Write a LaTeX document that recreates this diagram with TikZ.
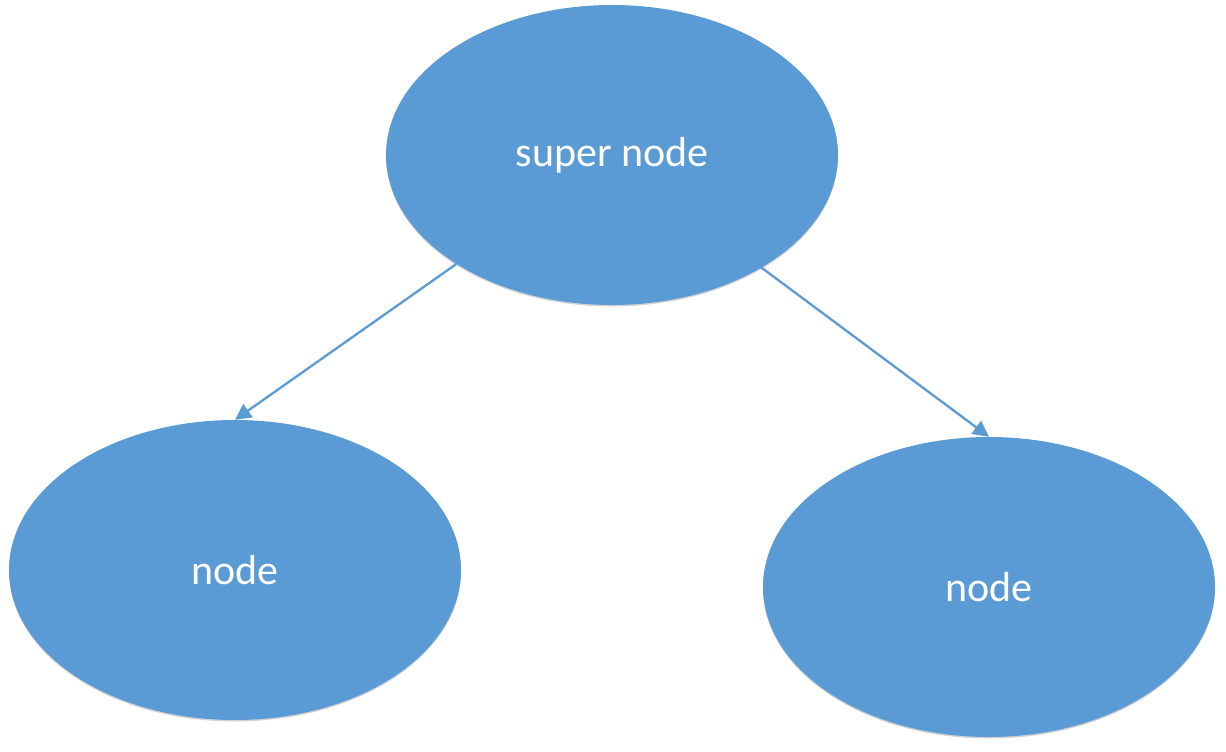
\documentclass[tikz,border=0pt]{standalone}
\usepackage{fontspec}
\setmainfont{Carlito}
\usetikzlibrary{shapes.geometric,arrows.meta,shadows}
\definecolor{officeblue}{HTML}{5B9BD5}
\tikzset{
  blob/.style={ellipse, fill=officeblue, draw=none, minimum width=452pt, minimum height=300pt, inner sep=0pt,
    text=white, font=\fontsize{42}{50}\selectfont,
    drop shadow={shadow xshift=0pt, shadow yshift=-1.5pt, opacity=0.35, fill=gray}},
  link/.style={draw=officeblue, line width=2.3pt, -{Triangle[length=16pt,width=16pt]}}
}
\begin{document}
\begin{tikzpicture}[x=1pt,y=-1pt]
\useasboundingbox (0,0) rectangle (1226,752);
\node[blob] (top) at (612,155) {super node};
\node[blob] (left) at (235,570) {node};
\node[blob] (right) at (989,587) {node};
\draw[link] (top.215.4) -- (left.north);
\draw[link] (top.323.4) -- (right.north);
\end{tikzpicture}
\end{document}
